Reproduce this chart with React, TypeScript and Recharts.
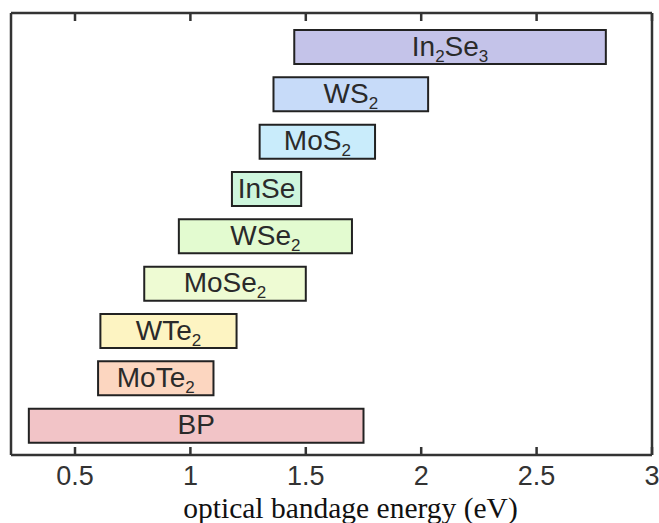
import React from 'react';
import { BarChart, Bar, XAxis, YAxis, Cell, LabelList, ReferenceLine } from 'recharts';

// Optical band-gap windows of layered semiconductors (eV)
const materials = ['In2Se3', 'WS2', 'MoS2', 'InSe', 'WSe2', 'MoSe2', 'WTe2', 'MoTe2', 'BP'];
const lowEnergy = [1.45, 1.36, 1.3, 1.18, 0.95, 0.8, 0.61, 0.6, 0.3];
const highEnergy = [2.8, 2.03, 1.8, 1.48, 1.7, 1.5, 1.2, 1.1, 1.75];
const barColors = [
  '#c4c3e9',
  '#c7dbf9',
  '#c9ecfb',
  '#cef6dd',
  '#e3fbd0',
  '#eefbd3',
  '#fdf4c2',
  '#fcd6c0',
  '#f2c4c7',
];
const xTicks = [0.5, 1, 1.5, 2, 2.5, 3];
const xDomain: [number, number] = [0.2227, 3];

const data = materials.map((name, i) => ({
  name,
  range: [lowEnergy[i], highEnergy[i]],
}));

const W = 659;
const H = 523;
const MARGIN = { top: 12, right: 7, left: 10, bottom: 0 };
const X_AXIS_H = 68;
const FRAME = '#333333';
const SANS = 'Arial, "Liberation Sans", Helvetica, sans-serif';
const frameLine = { stroke: FRAME, strokeWidth: 2.5 };

// inward tick marks: a full-height guide dashed so only both ends show
const PLOT_H = H - MARGIN.top - 1 - X_AXIS_H;
const TICK_LEN = 8;
const tickDash = `${TICK_LEN} ${PLOT_H - 2 * TICK_LEN} ${TICK_LEN}`;

// Split a chemical formula into runs, digits become subscripts
function formulaRuns(name: string) {
  const runs: { text: string; sub: boolean }[] = [];
  for (const ch of name) {
    const sub = /[0-9]/.test(ch);
    const last = runs[runs.length - 1];
    if (last && last.sub === sub) last.text += ch;
    else runs.push({ text: ch, sub });
  }
  return runs;
}

const FormulaLabel = (props: any) => {
  const { x, y, width, height, value } = props;
  const runs = formulaRuns(String(value));
  const cx = x + width / 2;
  const cy = y + height / 2 + 8.5;
  let prevSub = false;
  return (
    <text x={cx} y={cy} textAnchor="middle" fontFamily={SANS} fontSize={28} fill="#2a2a2a">
      {runs.map((r, i) => {
        const dy = r.sub && !prevSub ? 6 : !r.sub && prevSub ? -6 : 0;
        prevSub = r.sub;
        return (
          <tspan key={i} dy={dy} fontSize={r.sub ? 17 : 28}>
            {r.text}
          </tspan>
        );
      })}
    </text>
  );
};

const AxisTitle = (props: any) => {
  const { viewBox } = props;
  return (
    <text
      x={viewBox.x + viewBox.width / 2 + 19}
      y={518}
      textAnchor="middle"
      fontFamily='"Liberation Serif", "Times New Roman", serif'
      fontSize={29.5}
      fill="#111"
    >
      optical bandage energy (eV)
    </text>
  );
};

export default function App() {
  return (
    <div style={{ position: 'absolute', left: 0, top: 0, width: W, height: H, background: '#fff' }}>
      <BarChart width={W} height={H} data={data} layout="vertical" margin={MARGIN}>
        <XAxis
          xAxisId="bottom"
          type="number"
          orientation="bottom"
          domain={xDomain}
          ticks={xTicks}
          allowDataOverflow
          height={X_AXIS_H}
          axisLine={frameLine}
          tickLine={false}
          tickMargin={4.5}
          tick={{ fontSize: 27, fill: '#333', fontFamily: SANS }}
          label={<AxisTitle />}
        />
        <XAxis
          xAxisId="top"
          type="number"
          orientation="top"
          domain={xDomain}
          ticks={xTicks}
          allowDataOverflow
          height={1}
          axisLine={frameLine}
          tickLine={false}
          tick={false}
        />
        <YAxis
          yAxisId="cat"
          type="category"
          dataKey="name"
          width={1}
          padding={{ top: 10, bottom: 6 }}
          axisLine={frameLine}
          tickLine={false}
          tick={false}
        />
        {/* right edge of the frame */}
        <ReferenceLine
          x={xDomain[1]}
          xAxisId="bottom"
          yAxisId="cat"
          stroke={FRAME}
          strokeWidth={2.5}
        />
        {xTicks.map((t) => (
          <ReferenceLine
            key={t}
            x={t}
            xAxisId="bottom"
            yAxisId="cat"
            stroke={FRAME}
            strokeWidth={2.5}
            strokeDasharray={tickDash}
          />
        ))}
        <Bar
          xAxisId="bottom"
          yAxisId="cat"
          dataKey="range"
          barSize={34}
          stroke="#222"
          strokeWidth={2}
          isAnimationActive={false}
        >
          {data.map((d, i) => (
            <Cell key={d.name} fill={barColors[i]} />
          ))}
          <LabelList dataKey="name" content={<FormulaLabel />} />
        </Bar>
      </BarChart>
    </div>
  );
}
